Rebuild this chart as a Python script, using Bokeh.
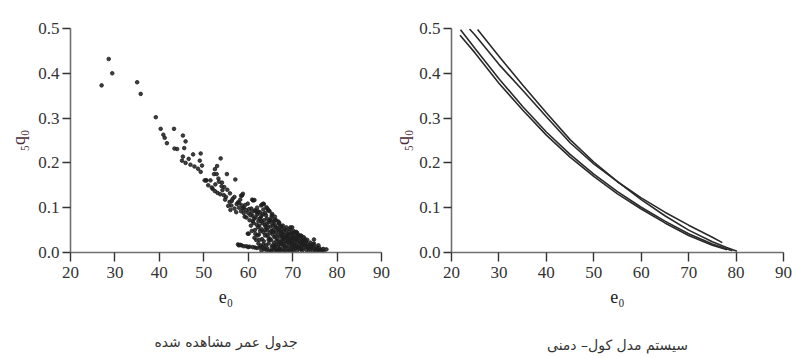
from bokeh.plotting import figure
from bokeh.layouts import row
from bokeh.models import Range1d, FixedTicker, PrintfTickFormatter, LinearAxis
from bokeh.embed import file_html
from bokeh.resources import INLINE

# ---------------- data ----------------
x_ticks = [20, 30, 40, 50, 60, 70, 80, 90]
y_ticks = [0.0, 0.1, 0.2, 0.3, 0.4, 0.5]

caption_left = "جدول عمر مشاهده شده"
caption_right = "سیستم مدل کول– دمنی"
x_label = "e₀"
y_label = "₅q₀"

# observed life tables (e0, 5q0)
obs_e0 = [
    27.0, 28.6, 29.4, 35.0, 35.8, 39.2, 40.3, 40.9, 41.2, 41.7, 43.3, 43.4, 44.0,
    45.3, 45.9, 45.6, 45.3, 45.1, 45.9, 46.6, 47.6, 47.0, 47.9, 49.3, 49.1, 48.7,
    49.3, 49.6, 50.2, 50.6, 51.5, 52.3, 52.5, 53.0, 53.8, 52.9, 53.4, 54.1, 55.2,
    57.1, 52.0, 52.5, 53.1, 53.7, 54.2, 54.6, 55.0, 55.8, 56.2, 56.9, 57.3, 56.5,
    57.7, 58.4, 58.8, 59.9, 61.1, 60.7, 61.5, 62.2, 63.4, 64.1, 64.5, 65.3, 66.0,
    66.8, 67.5, 69.9, 70.5, 72.0, 72.8, 74.8, 75.8, 76.9, 77.6,
    57.7, 58.5, 59.6, 60.3, 61.5, 62.6, 59.9, 61.4,
    60.9, 58.6, 63.1, 64.6, 60.1, 69.5, 57.9,
    50.5, 51.0, 51.8, 52.6, 53.3, 54.0, 54.5, 55.3, 55.9, 56.3, 56.9, 57.4, 57.9,
    58.4, 59.0, 59.6, 55.5, 56.0, 54.8,
    62.0, 62.3, 62.5, 62.8, 63.0, 63.2, 63.4, 63.6, 63.8, 63.9, 62.7, 63.1, 62.4,
    63.5, 64.0, 64.2, 64.3, 64.5, 64.6, 64.8, 64.9, 65.0, 65.1, 65.3, 65.4, 65.5,
    65.6, 65.8, 65.9, 66.0, 66.1, 66.2, 66.3, 66.5, 66.6, 66.7, 66.8, 66.9, 67.0,
    67.1, 67.2, 67.3, 67.4, 67.5, 67.6, 67.7, 67.8, 67.9, 68.0, 68.1, 68.2, 68.3,
    68.4, 68.5, 68.6, 68.7, 68.8, 68.9, 69.0, 69.1, 69.2, 69.3, 69.4, 69.5, 69.6,
    69.7, 69.8, 69.9, 70.0, 70.1, 70.2, 70.3, 70.4, 70.5, 70.6, 70.7, 70.8, 70.9,
    71.0, 71.1, 71.2, 71.3, 71.5, 71.6, 71.7, 71.9, 72.0, 72.1, 72.3, 72.4, 72.6,
    72.8, 73.0, 73.2, 73.4, 73.6, 73.8, 74.0, 74.3, 74.5, 74.8, 75.1, 75.4, 75.8,
    76.2, 76.6, 77.0,
    64.2, 64.7, 65.2, 65.7, 66.4, 67.0, 64.0, 63.6, 63.2, 62.8, 62.3, 61.8, 61.5,
    61.9, 62.1, 61.3, 61.0, 60.8, 60.3, 60.0, 59.5, 59.0, 58.6, 58.2, 59.2, 60.6,
    61.2, 65.2, 65.8, 66.3, 67.0, 67.8, 68.6, 69.4, 70.2, 71.0, 71.8, 72.5, 73.3,
    74.0, 74.6, 75.3, 76.0,
    64.4, 65.7, 66.9, 68.3, 69.6, 70.8, 71.4, 72.2, 73.1, 66.4, 67.4, 68.0, 69.0,
    70.0, 64.9, 65.5, 63.7, 63.0, 62.6, 63.3, 61.6, 62.0, 62.9, 63.5, 64.3, 64.8,
    65.4, 66.0, 61.4,
    58.0, 58.8, 59.3, 60.2, 60.5, 61.0, 61.7, 62.2, 62.6, 63.0, 63.4, 63.8, 64.2,
    64.6, 65.0, 65.6, 66.2, 66.8, 67.2, 67.6, 68.2, 68.8, 69.2, 69.8, 70.4, 71.2,
    71.8, 72.4, 73.0, 73.6, 74.2, 74.8, 75.6, 76.4, 65.0, 66.0, 67.0, 68.0, 69.0,
    70.0, 71.0, 72.0, 63.0, 64.0, 62.0, 61.0, 60.0, 59.0, 58.2, 62.5, 63.4, 64.2,
    65.2, 66.2, 67.4, 68.6, 69.8, 70.6, 66.6, 67.8, 64.6, 65.8, 63.8, 62.2, 61.6,
    60.8,
]
obs_q = [
    0.373, 0.432, 0.400, 0.380, 0.354, 0.302, 0.276, 0.263, 0.256, 0.244, 0.276, 0.232, 0.231,
    0.261, 0.248, 0.233, 0.214, 0.205, 0.200, 0.209, 0.219, 0.196, 0.192, 0.221, 0.205, 0.187,
    0.180, 0.194, 0.161, 0.161, 0.161, 0.175, 0.186, 0.193, 0.210, 0.175, 0.158, 0.156, 0.175,
    0.163, 0.142, 0.137, 0.133, 0.130, 0.139, 0.146, 0.124, 0.113, 0.105, 0.098, 0.090, 0.120,
    0.112, 0.127, 0.131, 0.109, 0.116, 0.098, 0.094, 0.088, 0.109, 0.101, 0.094, 0.083, 0.073,
    0.069, 0.058, 0.056, 0.045, 0.037, 0.030, 0.029, 0.016, 0.008, 0.007,
    0.018, 0.016, 0.014, 0.013, 0.011, 0.011, 0.042, 0.033,
    0.118, 0.127, 0.107, 0.094, 0.042, 0.056, 0.016,
    0.161, 0.150, 0.145, 0.152, 0.165, 0.148, 0.128, 0.140, 0.132, 0.115, 0.124, 0.108, 0.100,
    0.092, 0.088, 0.078, 0.104, 0.095, 0.118,
    0.085, 0.070, 0.060, 0.078, 0.052, 0.066, 0.045, 0.072, 0.038, 0.058, 0.048, 0.030, 0.040,
    0.025, 0.083, 0.064, 0.050, 0.035, 0.020, 0.072, 0.044, 0.058, 0.028, 0.012, 0.066, 0.040,
    0.050, 0.022, 0.034, 0.062, 0.008, 0.046, 0.018, 0.055, 0.030, 0.040, 0.012, 0.064, 0.024,
    0.048, 0.036, 0.006, 0.018, 0.052, 0.028, 0.042, 0.010, 0.033, 0.046, 0.020, 0.004, 0.038,
    0.026, 0.050, 0.014, 0.032, 0.042, 0.008, 0.022, 0.036, 0.046, 0.016, 0.028, 0.004, 0.040,
    0.020, 0.032, 0.012, 0.026, 0.042, 0.006, 0.018, 0.034, 0.024, 0.010, 0.038, 0.016, 0.028,
    0.004, 0.022, 0.032, 0.012, 0.026, 0.008, 0.018, 0.030, 0.014, 0.004, 0.022, 0.010, 0.026,
    0.016, 0.006, 0.020, 0.012, 0.004, 0.016, 0.008, 0.012, 0.004, 0.010, 0.006, 0.003, 0.005,
    0.004, 0.003, 0.002,
    0.010, 0.004, 0.002, 0.006, 0.002, 0.003, 0.016, 0.008, 0.012, 0.015, 0.020, 0.028, 0.050,
    0.062, 0.038, 0.075, 0.082, 0.090, 0.072, 0.088, 0.095, 0.100, 0.105, 0.118, 0.080, 0.060,
    0.066, 0.078, 0.070, 0.072, 0.066, 0.060, 0.056, 0.052, 0.048, 0.044, 0.038, 0.034, 0.028,
    0.022, 0.018, 0.013, 0.010,
    0.056, 0.046, 0.018, 0.012, 0.010, 0.046, 0.036, 0.028, 0.014, 0.026, 0.044, 0.030, 0.040,
    0.034, 0.030, 0.016, 0.062, 0.070, 0.090, 0.086, 0.092, 0.100, 0.105, 0.108, 0.098, 0.092,
    0.086, 0.080, 0.117,
    0.110, 0.098, 0.106, 0.097, 0.083, 0.070, 0.078, 0.092, 0.075, 0.082, 0.096, 0.088, 0.076,
    0.068, 0.072, 0.060, 0.056, 0.050, 0.058, 0.036, 0.052, 0.024, 0.030, 0.044, 0.014, 0.040,
    0.022, 0.018, 0.024, 0.010, 0.016, 0.020, 0.008, 0.006, 0.004, 0.014, 0.008, 0.002, 0.004,
    0.002, 0.012, 0.008, 0.004, 0.006, 0.010, 0.012, 0.012, 0.014, 0.017, 0.028, 0.018, 0.040,
    0.048, 0.036, 0.024, 0.036, 0.022, 0.030, 0.004, 0.018, 0.028, 0.010, 0.050, 0.056, 0.042,
    0.048,
]

# Coale-Demeny model curves (e0, 5q0)
model_a_e0 = [21.8, 25, 30, 35, 40, 45, 50, 55, 60, 65, 70, 75, 78.1]
model_a_q = [0.485, 0.445, 0.378, 0.318, 0.262, 0.213, 0.170, 0.131, 0.097, 0.066, 0.038, 0.016, 0.006]
model_b_e0 = [21.9, 25, 30, 35, 40, 45, 50, 55, 60, 65, 70, 75, 79.2]
model_b_q = [0.497, 0.455, 0.388, 0.326, 0.269, 0.219, 0.175, 0.136, 0.101, 0.070, 0.042, 0.019, 0.004]
model_c_e0 = [23.8, 25, 30, 35, 40, 45, 50, 55, 60, 65, 70, 75, 77.1]
model_c_q = [0.499, 0.485, 0.420, 0.362, 0.303, 0.245, 0.198, 0.158, 0.122, 0.090, 0.061, 0.034, 0.022]
model_d_e0 = [25.5, 30, 35, 40, 45, 50, 55, 60, 65, 70, 75, 78, 80.2]
model_d_q = [0.498, 0.438, 0.374, 0.312, 0.252, 0.202, 0.158, 0.118, 0.082, 0.050, 0.024, 0.011, 0.003]

# ---------------- styling ----------------
SERIF = "Liberation Serif"
TXT = "#333333"


def style(p, ylab_standoff):
    p.outline_line_color = None
    p.xgrid.visible = False
    p.ygrid.visible = False
    p.background_fill_color = "white"
    p.border_fill_color = "white"
    p.xaxis.ticker = FixedTicker(ticks=x_ticks)
    p.yaxis.ticker = FixedTicker(ticks=y_ticks)
    p.yaxis.formatter = PrintfTickFormatter(format="%.1f")
    for ax in (p.xaxis[0], p.yaxis[0]):
        ax.axis_line_color = "#707070"
        ax.axis_line_width = 1.6
        ax.major_tick_line_color = "#333333"
        ax.major_tick_line_width = 1.4
        ax.major_tick_in = 0
        ax.major_tick_out = 9
        ax.minor_tick_line_color = None
        ax.major_label_text_font = SERIF
        ax.major_label_text_font_size = "17px"
        ax.major_label_text_color = TXT
        ax.axis_label_text_font = SERIF
        ax.axis_label_text_font_style = "normal"
        ax.axis_label_text_font_size = "18px"
    p.xaxis.major_label_standoff = 5
    p.yaxis.major_label_standoff = 3
    p.yaxis.major_tick_out = 8
    p.xaxis.axis_label = x_label
    p.xaxis.axis_label_text_color = "#222222"
    p.xaxis.axis_label_standoff = 6
    p.yaxis.axis_label = y_label
    p.yaxis.axis_label_text_color = "#4a2c3a"
    p.yaxis.axis_label_standoff = ylab_standoff


def caption(p, txt, standoff):
    # caption drawn as the label of a bare extra axis under the e0 axis
    cap = LinearAxis(ticker=FixedTicker(ticks=[]), axis_label=txt,
                     axis_line_color=None, major_tick_line_color=None,
                     minor_tick_line_color=None, major_tick_out=0, major_tick_in=0,
                     major_label_text_font_size="0px", major_label_standoff=0,
                     axis_label_standoff=standoff,
                     axis_label_text_font="DejaVu Sans",
                     axis_label_text_font_size="14px",
                     axis_label_text_font_style="normal",
                     axis_label_text_color=TXT)
    p.add_layout(cap, "below")


H = 358

# ---------------- left: observed ----------------
p1 = figure(width=390, height=H, output_backend="svg", toolbar_location=None,
            x_range=Range1d(20, 90), y_range=Range1d(0, 0.5),
            min_border_left=70, min_border_right=9, min_border_top=28,
            min_border_bottom=H - 28 - 224)
style(p1, 6)
p1.scatter(obs_e0, obs_q, marker="circle", size=3.6,
           fill_color="#1e1e1e", line_color="#1e1e1e", alpha=0.85)
caption(p1, caption_left, 24)

# ---------------- right: model ----------------
p2 = figure(width=402, height=H, output_backend="svg", toolbar_location=None,
            x_range=Range1d(20, 90), y_range=Range1d(0, 0.5),
            min_border_left=61, min_border_right=9, min_border_top=23,
            min_border_bottom=H - 23 - 230)
style(p2, 3)
for xs, ys in ((model_a_e0, model_a_q), (model_b_e0, model_b_q),
               (model_c_e0, model_c_q), (model_d_e0, model_d_q)):
    p2.line(xs, ys, line_color="#2a2a2a", line_width=1.6)
caption(p2, caption_right, 27)

layout = row(p1, p2)
open("out.html", "w").write(file_html(layout, INLINE))
